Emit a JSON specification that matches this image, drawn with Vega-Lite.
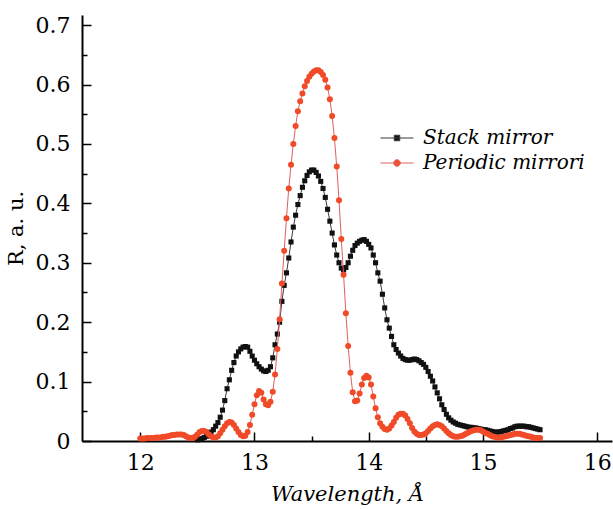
{
  "$schema": "https://vega.github.io/schema/vega-lite/v6.json",
  "width": 530,
  "height": 426,
  "autosize": {"type": "none"},
  "padding": {"left": 82, "top": 15, "right": 1, "bottom": 68},
  "background": "white",
  "config": {
    "view": {"stroke": null},
    "axis": {"labelFont": "DejaVu Serif", "titleFont": "DejaVu Serif", "labelColor": "black", "titleColor": "black", "tickColor": "black", "domainColor": "black", "grid": false}
  },
  "datasets": {
    "stack": [
      {"w":12.50,"r":0.002},{"w":12.52,"r":0.003},{"w":12.54,"r":0.004},{"w":12.56,"r":0.006},{"w":12.58,"r":0.008},
      {"w":12.60,"r":0.011},{"w":12.62,"r":0.015},{"w":12.64,"r":0.019},{"w":12.66,"r":0.025},{"w":12.68,"r":0.031},
      {"w":12.70,"r":0.040},{"w":12.72,"r":0.052},{"w":12.74,"r":0.068},{"w":12.76,"r":0.088},{"w":12.78,"r":0.103},
      {"w":12.80,"r":0.119},{"w":12.82,"r":0.132},{"w":12.84,"r":0.143},{"w":12.86,"r":0.150},{"w":12.88,"r":0.155},
      {"w":12.90,"r":0.158},{"w":12.92,"r":0.159},{"w":12.94,"r":0.158},{"w":12.96,"r":0.151},{"w":12.98,"r":0.143},
      {"w":13.00,"r":0.136},{"w":13.02,"r":0.130},{"w":13.04,"r":0.125},{"w":13.06,"r":0.121},{"w":13.08,"r":0.118},
      {"w":13.10,"r":0.117},{"w":13.12,"r":0.119},{"w":13.14,"r":0.125},{"w":13.16,"r":0.140},{"w":13.18,"r":0.162},
      {"w":13.20,"r":0.180},{"w":13.22,"r":0.200},{"w":13.24,"r":0.235},{"w":13.26,"r":0.262},{"w":13.28,"r":0.283},
      {"w":13.30,"r":0.308},{"w":13.32,"r":0.335},{"w":13.34,"r":0.360},{"w":13.36,"r":0.380},{"w":13.38,"r":0.398},
      {"w":13.40,"r":0.413},{"w":13.42,"r":0.427},{"w":13.44,"r":0.438},{"w":13.46,"r":0.447},{"w":13.48,"r":0.453},
      {"w":13.50,"r":0.456},{"w":13.52,"r":0.456},{"w":13.54,"r":0.452},{"w":13.56,"r":0.446},{"w":13.58,"r":0.437},
      {"w":13.60,"r":0.425},{"w":13.62,"r":0.410},{"w":13.64,"r":0.390},{"w":13.66,"r":0.370},{"w":13.68,"r":0.350},
      {"w":13.70,"r":0.330},{"w":13.72,"r":0.313},{"w":13.74,"r":0.300},{"w":13.76,"r":0.291},{"w":13.78,"r":0.288},
      {"w":13.80,"r":0.292},{"w":13.82,"r":0.300},{"w":13.84,"r":0.311},{"w":13.86,"r":0.321},{"w":13.88,"r":0.329},
      {"w":13.90,"r":0.333},{"w":13.92,"r":0.336},{"w":13.94,"r":0.338},{"w":13.96,"r":0.339},{"w":13.98,"r":0.336},
      {"w":14.00,"r":0.331},{"w":14.02,"r":0.325},{"w":14.04,"r":0.313},{"w":14.06,"r":0.300},{"w":14.08,"r":0.283},
      {"w":14.10,"r":0.269},{"w":14.12,"r":0.247},{"w":14.14,"r":0.224},{"w":14.16,"r":0.204},{"w":14.18,"r":0.190},
      {"w":14.20,"r":0.176},{"w":14.22,"r":0.162},{"w":14.24,"r":0.154},{"w":14.26,"r":0.148},{"w":14.28,"r":0.143},
      {"w":14.30,"r":0.139},{"w":14.32,"r":0.137},{"w":14.34,"r":0.136},{"w":14.36,"r":0.136},{"w":14.38,"r":0.137},
      {"w":14.40,"r":0.138},{"w":14.42,"r":0.137},{"w":14.44,"r":0.135},{"w":14.46,"r":0.132},{"w":14.48,"r":0.129},
      {"w":14.50,"r":0.124},{"w":14.52,"r":0.117},{"w":14.54,"r":0.109},{"w":14.56,"r":0.101},{"w":14.58,"r":0.091},
      {"w":14.60,"r":0.081},{"w":14.62,"r":0.071},{"w":14.64,"r":0.061},{"w":14.66,"r":0.053},{"w":14.68,"r":0.045},
      {"w":14.70,"r":0.039},{"w":14.72,"r":0.035},{"w":14.74,"r":0.032},{"w":14.76,"r":0.030},{"w":14.78,"r":0.028},
      {"w":14.80,"r":0.027},{"w":14.82,"r":0.026},{"w":14.84,"r":0.025},{"w":14.86,"r":0.024},{"w":14.88,"r":0.023},
      {"w":14.90,"r":0.023},{"w":14.92,"r":0.022},{"w":14.94,"r":0.022},{"w":14.96,"r":0.021},{"w":14.98,"r":0.020},
      {"w":15.00,"r":0.019},{"w":15.02,"r":0.019},{"w":15.04,"r":0.018},{"w":15.06,"r":0.017},{"w":15.08,"r":0.016},
      {"w":15.10,"r":0.015},{"w":15.12,"r":0.015},{"w":15.14,"r":0.015},{"w":15.16,"r":0.016},{"w":15.18,"r":0.017},
      {"w":15.20,"r":0.018},{"w":15.22,"r":0.019},{"w":15.24,"r":0.021},{"w":15.26,"r":0.022},{"w":15.28,"r":0.024},
      {"w":15.30,"r":0.025},{"w":15.32,"r":0.025},{"w":15.34,"r":0.025},{"w":15.36,"r":0.025},{"w":15.38,"r":0.024},
      {"w":15.40,"r":0.024},{"w":15.42,"r":0.023},{"w":15.44,"r":0.022},{"w":15.46,"r":0.021},{"w":15.48,"r":0.020},
      {"w":15.50,"r":0.019}
    ],
    "periodic": [
      {"w":12.00,"r":0.004},{"w":12.02,"r":0.004},{"w":12.04,"r":0.004},{"w":12.06,"r":0.005},{"w":12.08,"r":0.005},
      {"w":12.10,"r":0.005},{"w":12.12,"r":0.005},{"w":12.14,"r":0.006},{"w":12.16,"r":0.006},{"w":12.18,"r":0.006},
      {"w":12.20,"r":0.007},{"w":12.22,"r":0.007},{"w":12.24,"r":0.008},{"w":12.26,"r":0.009},{"w":12.28,"r":0.010},
      {"w":12.30,"r":0.010},{"w":12.32,"r":0.011},{"w":12.34,"r":0.011},{"w":12.36,"r":0.011},{"w":12.38,"r":0.010},
      {"w":12.40,"r":0.008},{"w":12.42,"r":0.006},{"w":12.44,"r":0.005},{"w":12.46,"r":0.005},{"w":12.48,"r":0.007},
      {"w":12.50,"r":0.011},{"w":12.52,"r":0.015},{"w":12.54,"r":0.017},{"w":12.56,"r":0.017},{"w":12.58,"r":0.015},
      {"w":12.60,"r":0.011},{"w":12.62,"r":0.008},{"w":12.64,"r":0.006},{"w":12.66,"r":0.006},{"w":12.68,"r":0.008},
      {"w":12.70,"r":0.013},{"w":12.72,"r":0.019},{"w":12.74,"r":0.025},{"w":12.76,"r":0.030},{"w":12.78,"r":0.032},
      {"w":12.80,"r":0.031},{"w":12.82,"r":0.027},{"w":12.84,"r":0.021},{"w":12.86,"r":0.015},{"w":12.88,"r":0.010},
      {"w":12.90,"r":0.008},{"w":12.92,"r":0.009},{"w":12.94,"r":0.015},{"w":12.96,"r":0.027},{"w":12.98,"r":0.044},
      {"w":13.00,"r":0.062},{"w":13.02,"r":0.077},{"w":13.04,"r":0.084},{"w":13.06,"r":0.081},{"w":13.08,"r":0.070},
      {"w":13.10,"r":0.062},{"w":13.12,"r":0.060},{"w":13.14,"r":0.066},{"w":13.16,"r":0.083},{"w":13.18,"r":0.112},
      {"w":13.20,"r":0.155},{"w":13.22,"r":0.205},{"w":13.24,"r":0.265},{"w":13.26,"r":0.320},{"w":13.28,"r":0.375},
      {"w":13.30,"r":0.425},{"w":13.32,"r":0.465},{"w":13.34,"r":0.500},{"w":13.36,"r":0.530},{"w":13.38,"r":0.555},
      {"w":13.40,"r":0.572},{"w":13.42,"r":0.585},{"w":13.44,"r":0.597},{"w":13.46,"r":0.606},{"w":13.48,"r":0.613},
      {"w":13.50,"r":0.618},{"w":13.52,"r":0.622},{"w":13.54,"r":0.624},{"w":13.56,"r":0.624},{"w":13.58,"r":0.621},
      {"w":13.60,"r":0.616},{"w":13.62,"r":0.608},{"w":13.64,"r":0.595},{"w":13.66,"r":0.575},{"w":13.68,"r":0.547},
      {"w":13.70,"r":0.510},{"w":13.72,"r":0.462},{"w":13.74,"r":0.405},{"w":13.76,"r":0.340},{"w":13.78,"r":0.280},
      {"w":13.80,"r":0.215},{"w":13.82,"r":0.160},{"w":13.84,"r":0.115},{"w":13.86,"r":0.082},{"w":13.88,"r":0.067},
      {"w":13.90,"r":0.068},{"w":13.92,"r":0.080},{"w":13.94,"r":0.095},{"w":13.96,"r":0.106},{"w":13.98,"r":0.110},
      {"w":14.00,"r":0.107},{"w":14.02,"r":0.095},{"w":14.04,"r":0.075},{"w":14.06,"r":0.055},{"w":14.08,"r":0.040},
      {"w":14.10,"r":0.030},{"w":14.12,"r":0.024},{"w":14.14,"r":0.020},{"w":14.16,"r":0.019},{"w":14.18,"r":0.021},
      {"w":14.20,"r":0.026},{"w":14.22,"r":0.032},{"w":14.24,"r":0.039},{"w":14.26,"r":0.044},{"w":14.28,"r":0.046},
      {"w":14.30,"r":0.046},{"w":14.32,"r":0.043},{"w":14.34,"r":0.037},{"w":14.36,"r":0.030},{"w":14.38,"r":0.022},
      {"w":14.40,"r":0.016},{"w":14.42,"r":0.012},{"w":14.44,"r":0.010},{"w":14.46,"r":0.010},{"w":14.48,"r":0.011},
      {"w":14.50,"r":0.013},{"w":14.52,"r":0.017},{"w":14.54,"r":0.021},{"w":14.56,"r":0.025},{"w":14.58,"r":0.027},
      {"w":14.60,"r":0.028},{"w":14.62,"r":0.027},{"w":14.64,"r":0.025},{"w":14.66,"r":0.021},{"w":14.68,"r":0.017},
      {"w":14.70,"r":0.013},{"w":14.72,"r":0.010},{"w":14.74,"r":0.008},{"w":14.76,"r":0.007},{"w":14.78,"r":0.007},
      {"w":14.80,"r":0.008},{"w":14.82,"r":0.009},{"w":14.84,"r":0.011},{"w":14.86,"r":0.013},{"w":14.88,"r":0.015},
      {"w":14.90,"r":0.017},{"w":14.92,"r":0.018},{"w":14.94,"r":0.019},{"w":14.96,"r":0.019},{"w":14.98,"r":0.018},
      {"w":15.00,"r":0.016},{"w":15.02,"r":0.014},{"w":15.04,"r":0.012},{"w":15.06,"r":0.010},{"w":15.08,"r":0.008},
      {"w":15.10,"r":0.007},{"w":15.12,"r":0.006},{"w":15.14,"r":0.006},{"w":15.16,"r":0.006},{"w":15.18,"r":0.007},
      {"w":15.20,"r":0.008},{"w":15.22,"r":0.009},{"w":15.24,"r":0.010},{"w":15.26,"r":0.011},{"w":15.28,"r":0.012},
      {"w":15.30,"r":0.012},{"w":15.32,"r":0.012},{"w":15.34,"r":0.011},{"w":15.36,"r":0.010},{"w":15.38,"r":0.009},
      {"w":15.40,"r":0.008},{"w":15.42,"r":0.007},{"w":15.44,"r":0.006},{"w":15.46,"r":0.005},{"w":15.48,"r":0.005},
      {"w":15.50,"r":0.005}
    ],
    "series": [{"s": "Stack mirror"}, {"s": "Periodic mirrori"}]
  },
  "resolve": {"axis": {"x": "independent", "y": "independent"}},
  "layer": [
    {
      "data": {"name": "stack"},
      "mark": {"type": "line", "color": "#3a3a3a", "strokeWidth": 1},
      "encoding": {
        "x": {"field": "w", "type": "quantitative", "scale": {"domain": [11.49, 16.13], "nice": false, "zero": false},
          "axis": {"orient": "bottom", "values": [12, 13, 14, 15, 16], "format": "d", "tickSize": -9, "tickWidth": 1.5, "domainWidth": 2, "labelFontSize": 22, "labelPadding": 20, "title": "Wavelength, Å", "titleFontSize": 21, "titleFontStyle": "italic", "titleFontWeight": "normal", "titlePadding": 10}},
        "y": {"field": "r", "type": "quantitative", "scale": {"domain": [0, 0.717], "nice": false, "zero": true},
          "axis": {"orient": "left", "values": [0, 0.1, 0.2, 0.3, 0.4, 0.5, 0.6, 0.7], "labelExpr": "datum.value == 0 ? '0' : format(datum.value, '.1f')", "tickSize": -9, "tickWidth": 1.5, "domainWidth": 2, "labelFontSize": 22, "labelPadding": 21, "title": "R, a. u.", "titleFontSize": 21, "titleFontWeight": "normal", "titlePadding": 9}}
      }
    },
    {
      "data": {"name": "stack"},
      "mark": {"type": "point", "shape": "square", "filled": true, "color": "#111111", "size": 26, "opacity": 1},
      "encoding": {
        "x": {"field": "w", "type": "quantitative", "axis": null},
        "y": {"field": "r", "type": "quantitative", "axis": null}
      }
    },
    {
      "data": {"name": "periodic"},
      "mark": {"type": "line", "color": "#e0605a", "strokeWidth": 1},
      "encoding": {
        "x": {"field": "w", "type": "quantitative",
          "axis": {"orient": "bottom", "values": [12.5, 13.5, 14.5, 15.5], "labels": false, "domain": false, "tickSize": -5, "tickWidth": 1.5, "title": null}},
        "y": {"field": "r", "type": "quantitative",
          "axis": {"orient": "left", "values": [0.05, 0.15, 0.25, 0.35, 0.45, 0.55, 0.65], "labels": false, "domain": false, "tickSize": -5, "tickWidth": 1.5, "title": null}}
      }
    },
    {
      "data": {"name": "periodic"},
      "mark": {"type": "point", "shape": "circle", "filled": true, "color": "#f04a28", "size": 36, "opacity": 1},
      "encoding": {
        "x": {"field": "w", "type": "quantitative", "axis": null},
        "y": {"field": "r", "type": "quantitative", "axis": null}
      }
    },
    {
      "data": {"name": "series"},
      "transform": [{"filter": "false"}],
      "mark": {"type": "point", "filled": true, "opacity": 1},
      "encoding": {
        "shape": {"field": "s", "type": "nominal",
          "scale": {"domain": ["Stack mirror", "Periodic mirrori"], "range": ["M-3.3,0H3.3M-0.55,-0.55H0.55V0.55H-0.55Z", "M-3.3,0H3.3M-0.65,0A0.65,0.65,0,1,1,0.65,0A0.65,0.65,0,1,1,-0.65,0Z"]},
          "legend": {"title": null, "orient": "none", "legendX": 305, "legendY": 113, "padding": 0, "symbolSize": 100, "symbolStrokeWidth": 1, "labelFont": "DejaVu Serif", "labelFontSize": 20, "labelFontStyle": "italic", "labelColor": "black", "labelOffset": 16, "labelLimit": 400, "rowPadding": 5}},
        "fill": {"field": "s", "type": "nominal",
          "scale": {"domain": ["Stack mirror", "Periodic mirrori"], "range": ["#111111", "#f04a28"]},
          "legend": {"title": null, "orient": "none", "legendX": 305, "legendY": 113, "padding": 0, "symbolSize": 100, "symbolStrokeWidth": 1, "labelFont": "DejaVu Serif", "labelFontSize": 20, "labelFontStyle": "italic", "labelColor": "black", "labelOffset": 16, "labelLimit": 400, "rowPadding": 5}},
        "stroke": {"field": "s", "type": "nominal",
          "scale": {"domain": ["Stack mirror", "Periodic mirrori"], "range": ["#3a3a3a", "#e0605a"]},
          "legend": {"title": null, "orient": "none", "legendX": 305, "legendY": 113, "padding": 0, "symbolSize": 100, "symbolStrokeWidth": 1, "labelFont": "DejaVu Serif", "labelFontSize": 20, "labelFontStyle": "italic", "labelColor": "black", "labelOffset": 16, "labelLimit": 400, "rowPadding": 5}}
      }
    }
  ]
}
